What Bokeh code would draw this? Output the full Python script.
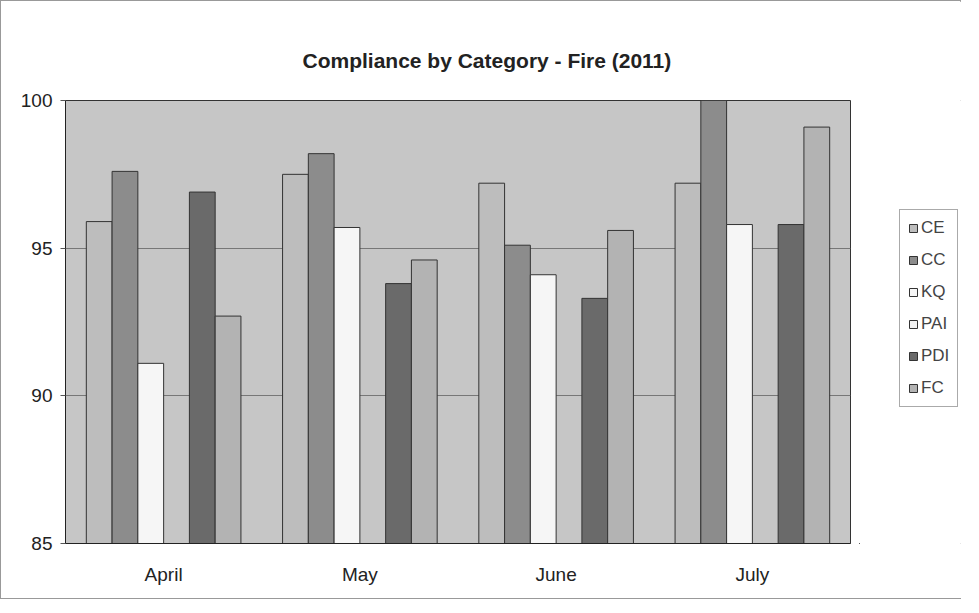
from bokeh.plotting import figure
from bokeh.models import ColumnDataSource, FactorRange, Legend, LegendItem, FixedTicker, Range1d
from bokeh.layouts import row
from bokeh.transform import dodge
from bokeh.embed import file_html
from bokeh.resources import INLINE

months = ["April", "May", "June", "July"]
series = ["CE", "CC", "KQ", "PAI", "PDI", "FC"]
CE = [95.9, 97.5, 97.2, 97.2]
CC = [97.6, 98.2, 95.1, 100.0]
KQ = [91.1, 95.7, 94.1, 95.8]
PAI = [float("nan")] * 4
PDI = [96.9, 93.8, 93.3, 95.8]
FC = [92.7, 94.6, 95.6, 99.1]
y_ticks = [85, 90, 95, 100]

colors = ["#bdbdbd", "#8c8c8c", "#f6f6f6", "#f2f2f2", "#6a6a6a", "#b3b3b3"]
values = [CE, CC, KQ, PAI, PDI, FC]

data = {"month": months}
for s, v in zip(series, values):
    data[s] = v
src = ColumnDataSource(data)

FONT = "Liberation Sans"
p = figure(x_range=FactorRange(*months), y_range=(85, 100),
           width=858, height=597, output_backend="svg", toolbar_location=None,
           min_border_left=64, min_border_right=9, min_border_top=99, min_border_bottom=55)
p.title.text = "Compliance by Category - Fire (2011)"
p.title.text_font = FONT
p.title.text_font_size = "21px"
p.title.text_font_style = "bold"
p.title.align = "left"
p.title.offset = 237
p.title.standoff = 53
p.title.vertical_align = "top"
p.title.text_color = "#222222"

p.background_fill_color = "#c6c6c6"
p.border_fill_color = "white"
p.outline_line_color = "#333333"
p.outline_line_width = 1

w = 0.1313
for i, (s, c) in enumerate(zip(series, colors)):
    p.vbar(x=dodge("month", (i - 2.5) * w, range=p.x_range), top=s, bottom=85,
           width=w, source=src, fill_color=c, line_color="#333333", line_width=1)

p.xgrid.grid_line_color = None
p.ygrid.grid_line_color = "#777777"
p.ygrid.grid_line_width = 1
p.yaxis.ticker = FixedTicker(ticks=y_ticks)
p.yaxis.axis_line_color = "#222222"
p.yaxis.major_tick_line_color = "#555555"
p.yaxis.major_tick_out = 5
p.yaxis.major_tick_in = 0
p.yaxis.minor_tick_line_color = None
p.yaxis.major_label_text_font = FONT
p.yaxis.major_label_text_font_size = "19px"
p.yaxis.major_label_text_color = "#222222"
p.yaxis.major_label_standoff = 8
p.xaxis.axis_line_color = "#222222"
p.xaxis.major_tick_line_color = None
p.xaxis.major_label_text_font = FONT
p.xaxis.major_label_text_font_size = "19px"
p.xaxis.major_label_text_color = "#222222"
p.xaxis.major_label_standoff = 14
p.x_range.range_padding = 0

# legend panel as a narrow companion figure (hidden swatch renderers outside its range)
lf = figure(width=103, height=597, output_backend="svg", toolbar_location=None,
            x_range=Range1d(0, 1), y_range=Range1d(0, 1),
            x_axis_type=None, y_axis_type=None,
            min_border_left=0, min_border_right=0, min_border_top=0, min_border_bottom=0)
lf.outline_line_color = None
lf.background_fill_color = "white"
lf.border_fill_color = "white"
lf.grid.grid_line_color = None
items = []
for s, c in zip(series, colors):
    r = lf.vbar(x=[-5], top=[-5], bottom=-6, width=0.1, fill_color=c,
                line_color="#333333", line_width=1)
    items.append(LegendItem(label=s, renderers=[r]))
legend = Legend(items=items, location=(40, 136), label_text_font=FONT,
                label_text_font_size="17px", glyph_width=10, glyph_height=10,
                label_height=20, spacing=12, padding=8, label_standoff=3,
                border_line_color="#555555", background_fill_color="white", margin=0)
lf.add_layout(legend, "center")

layout = row(p, lf, spacing=0)
layout.styles = {"border": "1px solid #999999", "width": "961px"}

open("out.html", "w").write(file_html(layout, INLINE))
